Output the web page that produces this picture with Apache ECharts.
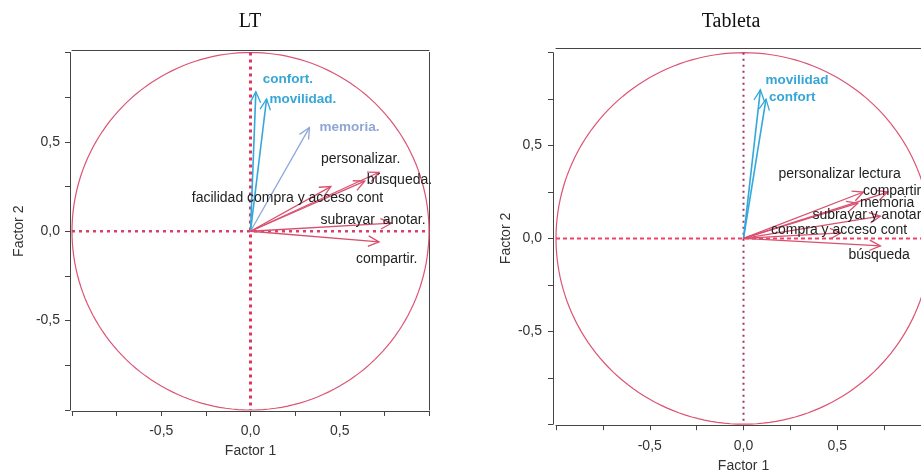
<!DOCTYPE html>
<html>
<head>
<meta charset="utf-8">
<script src="https://cdn.jsdelivr.net/npm/echarts@6/dist/echarts.min.js"></script>
<style>
html, body { margin: 0; padding: 0; background: #fff; }
#chart { width: 921px; height: 472px; }
</style>
</head>
<body>
<div id="chart"></div>
<script>
// LT panel: component loadings (Factor 1, Factor 2)
var ltVars = ['confort.', 'movilidad.', 'memoria.', 'personalizar.', 'búsqueda.',
    'facilidad compra y acceso cont', 'subrayar  anotar.', 'compartir.'];
var ltF1 = [0.03, 0.09, 0.33, 0.72, 0.64, 0.45, 0.79, 0.72];
var ltF2 = [0.78, 0.74, 0.58, 0.33, 0.28, 0.25, 0.045, -0.06];

// Tableta panel
var tabVars = ['movilidad', 'confort', 'personalizar lectura', 'compartir', 'memoria',
    'subrayar y anotar', 'compra y acceso cont', 'búsqueda'];
var tabF1 = [0.09, 0.12, 0.64, 0.77, 0.61, 0.73, 0.52, 0.73];
var tabF2 = [0.80, 0.75, 0.25, 0.25, 0.19, 0.12, 0.03, -0.04];

// tick labels shown on both axes
var tickValues = [-0.5, 0, 0.5];
var tickLabels = ['-0,5', '0,0', '0,5'];

// label placement (px from arrow tip) and colours
var ltLabelOff = [[7, -13], [3, 0], [10, 0], [-58, -13], [2, -1], [-139, 12], [-71, -3], [-23, 17]];
var tabLabelOff = [[5, -10], [3, -2], [-85, -18], [-25, -1], [2, 0], [-68, -1], [-70, -3], [-32, 9]];
var BLUE = '#33a8da', LBLUE = '#8ea8da', RED = '#d9506f';
var ltColors = [BLUE, BLUE, LBLUE, RED, RED, RED, RED, RED];
var tabColors = [BLUE, BLUE, RED, RED, RED, RED, RED, RED];

var FONT = '"Liberation Sans", Arial, sans-serif';

function tickFmt(v) {
    var k = tickValues.indexOf(Math.round(v * 100) / 100);
    return k < 0 ? '' : tickLabels[k];
}

function mainAxis(gridIdx, pos, offset, name, nameGap, margin) {
    return {
        type: 'value', gridIndex: gridIdx, position: pos, offset: offset,
        min: -1, max: 1, interval: 0.25,
        name: name, nameLocation: 'middle', nameGap: nameGap,
        nameTextStyle: { fontSize: 14, color: '#333', fontFamily: FONT },
        axisLine: { show: true, onZero: false, lineStyle: { color: '#444', width: 1 } },
        axisTick: { show: true, length: 5, lineStyle: { color: '#444' } },
        axisLabel: { show: true, margin: margin, fontSize: 14, color: '#333', fontFamily: FONT, formatter: tickFmt },
        splitLine: { show: false }
    };
}

function frameAxis(gridIdx, pos, offset) {
    return {
        type: 'value', gridIndex: gridIdx, position: pos, offset: offset,
        min: -1, max: 1,
        axisLine: { show: true, onZero: false, lineStyle: { color: '#444', width: 1 } },
        axisTick: { show: false }, axisLabel: { show: false }, splitLine: { show: false }
    };
}

function circleSeries(ax, vStyle, hStyle) {
    return {
        type: 'custom', xAxisIndex: ax, yAxisIndex: ax, silent: true, clip: false,
        data: [[0, 0]],
        renderItem: function (params, api) {
            var pts = [];
            for (var t = 0; t <= 180; t++) {
                var a = t / 180 * Math.PI * 2;
                pts.push(api.coord([Math.cos(a), Math.sin(a)]));
            }
            var top = api.coord([0, 1]), bot = api.coord([0, -1]);
            var lft = api.coord([-1, 0]), rgt = api.coord([1, 0]);
            return {
                type: 'group', children: [
                    { type: 'polyline', shape: { points: pts }, style: { stroke: '#dc5474', lineWidth: 1.2, fill: null } },
                    { type: 'line', shape: { x1: top[0], y1: top[1], x2: bot[0], y2: bot[1] }, style: vStyle },
                    { type: 'line', shape: { x1: lft[0], y1: lft[1], x2: rgt[0], y2: rgt[1] }, style: hStyle }
                ]
            };
        }
    };
}

function arrowSeries(ax, names, f1, f2, colors, offs) {
    return {
        type: 'custom', xAxisIndex: ax, yAxisIndex: ax, silent: true, clip: false,
        data: f1.map(function (v, i) { return [v, f2[i]]; }),
        renderItem: function (params, api) {
            var i = params.dataIndex;
            var c = colors[i];
            var o = api.coord([0, 0]);
            var p = api.coord([api.value(0), api.value(1)]);
            var ang = Math.atan2(p[1] - o[1], p[0] - o[0]);
            var L = 12, h = 0.45;
            var b1 = [p[0] - L * Math.cos(ang - h), p[1] - L * Math.sin(ang - h)];
            var b2 = [p[0] - L * Math.cos(ang + h), p[1] - L * Math.sin(ang + h)];
            var isBlue = c !== RED;
            return {
                type: 'group', children: [
                    { type: 'line', shape: { x1: o[0], y1: o[1], x2: p[0], y2: p[1] }, style: { stroke: c, lineWidth: c === BLUE ? 1.6 : 1.3 } },
                    { type: 'polyline', shape: { points: [b1, p, b2] }, style: { stroke: c, lineWidth: 1.3, fill: null } },
                    {
                        type: 'text', x: p[0] + offs[i][0], y: p[1] + offs[i][1],
                        style: {
                            text: names[i], fill: isBlue ? (c === BLUE ? '#36a6d6' : '#8fa6d4') : '#222',
                            fontSize: isBlue ? 13.5 : 14, fontWeight: isBlue ? 'bold' : 'normal',
                            fontFamily: FONT, align: 'left', verticalAlign: 'middle'
                        }
                    }
                ]
            };
        }
    };
}

var chart = echarts.init(document.getElementById('chart'), null, { renderer: 'canvas' });
chart.setOption({
    animation: false,
    backgroundColor: '#fff',
    graphic: [
        { type: 'text', x: 250, y: 22, style: { text: 'LT', fill: '#111', font: '20px "Liberation Serif", "DejaVu Serif", serif', align: 'center', verticalAlign: 'middle' } },
        { type: 'text', x: 731, y: 22, style: { text: 'Tableta', fill: '#111', font: '20px "Liberation Serif", "DejaVu Serif", serif', align: 'center', verticalAlign: 'middle' } }
    ],
    grid: [
        { left: 72, top: 52.5, width: 357, height: 357.5, outerBoundsMode: 'none', containLabel: false },
        { left: 556, top: 52.7, width: 375, height: 371.5, outerBoundsMode: 'none', containLabel: false }
    ],
    xAxis: [
        mainAxis(0, 'bottom', 1, 'Factor 1', 33, 13),
        frameAxis(0, 'top', 2.5),
        mainAxis(1, 'bottom', 1, 'Factor 1', 34, 14),
        frameAxis(1, 'top', 4.5)
    ],
    yAxis: [
        mainAxis(0, 'left', 2, 'Factor 2', 44, 10),
        frameAxis(0, 'right', 0),
        mainAxis(1, 'left', 3, 'Factor 2', 40, 11),
        frameAxis(1, 'right', 0)
    ],
    series: [
        circleSeries(0,
            { stroke: '#e2345e', lineWidth: 3, lineDash: [3, 4] },
            { stroke: '#d8406a', lineWidth: 2.5, lineDash: [3, 4] }),
        circleSeries(2,
            { stroke: '#a8336a', lineWidth: 2, lineDash: [2, 4] },
            { stroke: '#f0406a', lineWidth: 2, lineDash: [4, 3] }),
        arrowSeries(0, ltVars, ltF1, ltF2, ltColors, ltLabelOff),
        arrowSeries(2, tabVars, tabF1, tabF2, tabColors, tabLabelOff)
    ]
});
</script>
</body>
</html>
